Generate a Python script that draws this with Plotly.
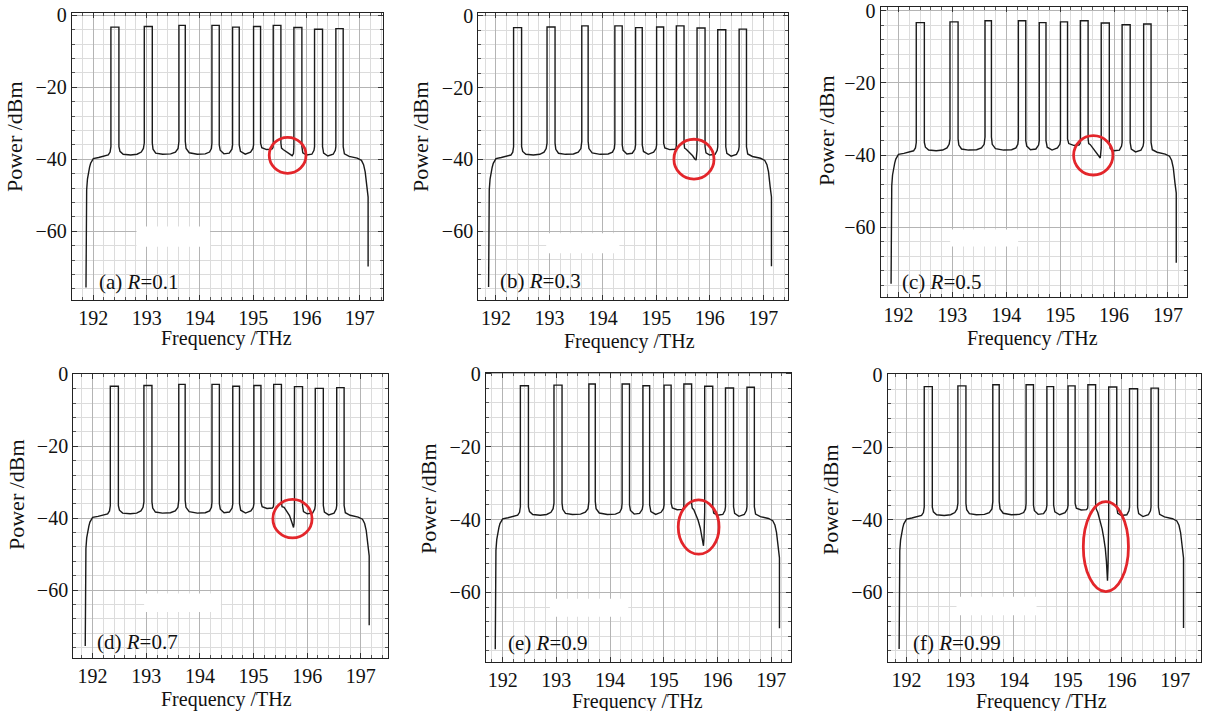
import plotly.graph_objects as go

# ---------------- data ----------------
# shared spectrum trace (left part: up to the right edge of channel 7)
BASE_LEFT_F = [191.8625, 191.868, 191.875, 191.89, 191.906, 191.93, 191.95, 192.0, 192.1, 192.2, 192.28, 192.315, 192.33,
               192.33, 192.48, 192.48, 192.5, 192.56, 192.7, 192.82, 192.9, 192.94, 192.956,
               192.956, 193.106, 193.106, 193.12, 193.17, 193.3, 193.45, 193.54, 193.59, 193.606,
               193.606, 193.725, 193.725, 193.74, 193.8, 193.95, 194.1, 194.18, 194.215, 194.225,
               194.225, 194.3625, 194.3625, 194.38, 194.45, 194.55, 194.6, 194.6125,
               194.6125, 194.7375, 194.7375, 194.76, 194.85, 194.95, 194.995, 195.006,
               195.006, 195.1375, 195.1375, 195.16, 195.25, 195.35, 195.37, 195.375,
               195.375, 195.519, 195.519]
BASE_LEFT_P = [-75.6, -60.0, -48.5, -45.5, -43.9, -42.2, -41.1, -39.8, -39.5, -39.2, -38.8, -38.0, -36.5,
               -3.3, -3.3, -36.5, -37.8, -38.6, -38.8, -38.6, -38.0, -37.0, -35.5,
               -3.1, -3.1, -35.5, -37.2, -38.3, -38.6, -38.5, -38.0, -37.0, -35.0,
               -2.8, -2.8, -35.0, -37.0, -38.2, -38.6, -38.5, -38.0, -37.0, -35.5,
               -2.8, -2.8, -36.0, -37.5, -38.5, -38.3, -37.2, -36.0,
               -3.3, -3.3, -36.0, -37.8, -38.6, -38.0, -37.0, -36.0,
               -3.1, -3.1, -35.5, -36.8, -37.3, -37.2, -36.8, -36.0,
               -2.8, -2.8, -35.5]
# shared spectrum trace (right part: from the top of channel 8)
BASE_RIGHT_F = [195.7625, 195.9125, 195.9125, 195.93, 196.0, 196.1, 196.14, 196.15,
                196.15, 196.3, 196.3, 196.32, 196.4, 196.5, 196.54, 196.55,
                196.55, 196.6875, 196.6875, 196.71, 196.8, 196.95, 197.03, 197.07, 197.1, 197.13,
                197.145, 197.155, 197.155]
BASE_RIGHT_P = [-3.4, -3.4, -36.5, -38.2, -38.8, -38.6, -37.5, -36.5,
                -3.9, -3.9, -36.5, -38.3, -39.1, -38.6, -37.5, -36.5,
                -3.7, -3.7, -36.5, -38.5, -39.2, -39.7, -40.3, -41.5, -43.5, -47.6,
                -49.4, -50.5, -69.8]

# dip between channel 7 and channel 8, one per reflectivity R
DIP_A_F = [195.53, 195.56, 195.62, 195.68, 195.73, 195.755, 195.7625]
DIP_A_P = [-36.9, -37.3, -37.9, -38.6, -39.0, -38.4, -36.5]
DIP_B_F = [195.53, 195.56, 195.62, 195.68, 195.72, 195.745, 195.7625]
DIP_B_P = [-36.9, -37.2, -38.0, -39.0, -39.9, -40.2, -37.5]
DIP_C_F = [195.53, 195.56, 195.61, 195.67, 195.72, 195.745, 195.7625]
DIP_C_P = [-36.8, -37.1, -38.1, -39.4, -40.5, -40.8, -38.0]
DIP_D_F = [195.53, 195.57, 195.62, 195.67, 195.71, 195.745, 195.755, 195.7625]
DIP_D_P = [-36.8, -37.0, -38.0, -39.3, -41.0, -42.6, -41.5, -38.0]
DIP_E_F = [195.53, 195.56, 195.6, 195.64, 195.68, 195.71, 195.74, 195.75, 195.7625]
DIP_E_P = [-36.8, -37.3, -38.6, -40.2, -42.3, -44.5, -47.2, -45.0, -38.0]
DIP_F_F = [195.53, 195.56, 195.6, 195.64, 195.67, 195.7, 195.72, 195.74, 195.75, 195.7625]
DIP_F_P = [-37.0, -38.0, -40.0, -42.5, -45.0, -48.0, -51.5, -56.8, -53.0, -40.0]

PANEL_LABELS = ["(a)", "(b)", "(c)", "(d)", "(e)", "(f)"]
R_VALUES = ["0.1", "0.3", "0.5", "0.7", "0.9", "0.99"]
DIPS_F = [DIP_A_F, DIP_B_F, DIP_C_F, DIP_D_F, DIP_E_F, DIP_F_F]
DIPS_P = [DIP_A_P, DIP_B_P, DIP_C_P, DIP_D_P, DIP_E_P, DIP_F_P]

X_TICKS = [192, 193, 194, 195, 196, 197]
Y_TICKS = [0, -20, -40, -60]

# red highlight ellipse per panel: [x0, x1, y0, y1]
ELLIPSES = [[195.30, 195.99, -43.9, -33.9],
            [195.33, 196.08, -45.5, -34.4],
            [195.25, 195.98, -45.5, -34.6],
            [195.36, 196.09, -45.5, -34.8],
            [195.27, 196.03, -49.5, -34.6],
            [195.29, 196.13, -59.8, -35.0]]
# white blank patch per panel: [x0, x1, y0, y1]
PATCHES = [[192.81, 194.19, -64.3, -58.7],
           [192.94, 194.31, -66.2, -60.6],
           [192.96, 194.22, -65.3, -60.6],
           [192.96, 194.39, -66.1, -61.0],
           [192.88, 194.34, -66.7, -61.7],
           [192.93, 194.42, -66.3, -61.2]]

# ---------------- layout geometry ----------------
W, H = 1213, 711
X_RANGES = [[191.60, 197.44], [191.67, 197.47], [191.67, 197.36],
            [191.64, 197.50], [191.69, 197.37], [191.65, 197.48]]
Y_RANGES = [[-79.1, 0.55], [-79.2, 0.7], [-79.2, 1.1],
            [-79.0, 0.1], [-79.0, 0.3], [-79.1, 0.1]]
# plot frames in pixels: left, right, top, bottom
FRAMES = [[72.0, 383.3, 13.3, 300.0], [478.3, 788.3, 13.3, 300.0], [880.7, 1187.3, 6.7, 296.7],
          [73.3, 387.7, 374.0, 658.3], [486.0, 791.0, 372.7, 661.7], [887.7, 1201.0, 374.3, 661.7]]
YTITLE_POS = [[14, 137], [420, 137], [826, 131], [16, 495], [428, 499], [830, 500]]
XTITLE_POS = [[227, 339], [629, 341], [1032, 339], [227, 699], [637, 701], [1041, 701]]
LABEL_POS = [[192.07, -74.0], [192.04, -74.0], [192.03, -75.0],
             [192.04, -74.5], [192.07, -74.0], [192.09, -74.0]]

FONT = "Liberation Serif, Times New Roman, serif"
LINE_COLOR = "#1a1a1a"

fig = go.Figure()
layout = dict(
    width=W, height=H,
    margin=dict(l=0, r=0, t=0, b=0, autoexpand=False),
    paper_bgcolor="white", plot_bgcolor="white",
    showlegend=False,
    font=dict(family=FONT, size=20, color="#111111"),
)
shapes = []
annotations = []

for i in range(6):
    n = "" if i == 0 else str(i + 1)
    xa, ya = "x" + n, "y" + n
    f = BASE_LEFT_F + DIPS_F[i] + BASE_RIGHT_F
    p = BASE_LEFT_P + DIPS_P[i] + BASE_RIGHT_P
    fig.add_trace(go.Scatter(x=f, y=p, mode="lines", xaxis=xa, yaxis=ya,
                             line=dict(color=LINE_COLOR, width=1.4), hoverinfo="skip"))
    l, r, t, b = FRAMES[i]
    common = dict(showline=True, linecolor="#222222", linewidth=1.3, mirror="allticks",
                  ticks="inside", ticklen=5, tickcolor="#333333", tickwidth=1,
                  showgrid=True, gridcolor="#b4b4b4", gridwidth=1.1, zeroline=False,
                  automargin=False, ticklabeloverflow="allow",
                  tickfont=dict(family=FONT, size=20, color="#111111"))
    layout["xaxis" + n] = dict(
        common, domain=[l / W, r / W], range=X_RANGES[i], anchor=ya,
        tickvals=X_TICKS,
        minor=dict(dtick=0.2, tick0=192, showgrid=True, gridcolor="#dcdcdc", gridwidth=1,
                   ticks="inside", ticklen=3, tickcolor="#555555"))
    layout["yaxis" + n] = dict(
        common, domain=[1 - b / H, 1 - t / H], range=Y_RANGES[i], anchor=xa,
        tickvals=Y_TICKS, ticktext=["0", "\u221220", "\u221240", "\u221260"],
        minor=dict(dtick=4, tick0=0, showgrid=True, gridcolor="#dcdcdc", gridwidth=1,
                   ticks="inside", ticklen=3, tickcolor="#555555"))
    px0, px1, py0, py1 = PATCHES[i]
    shapes.append(dict(type="rect", xref=xa, yref=ya, x0=px0, x1=px1, y0=py0, y1=py1,
                       fillcolor="white", line=dict(width=0), layer="between"))
    ex0, ex1, ey0, ey1 = ELLIPSES[i]
    shapes.append(dict(type="circle", xref=xa, yref=ya, x0=ex0, x1=ex1, y0=ey0, y1=ey1,
                       line=dict(color="#e3262b", width=2.8), layer="above"))
    annotations.append(dict(x=LABEL_POS[i][0], y=LABEL_POS[i][1], xref=xa, yref=ya,
                            xanchor="left", yanchor="middle", showarrow=False,
                            text=PANEL_LABELS[i] + " <i>R</i>=" + R_VALUES[i],
                            font=dict(family=FONT, size=21, color="#111111")))
    annotations.append(dict(x=YTITLE_POS[i][0] / W, y=1 - YTITLE_POS[i][1] / H, xref="paper", yref="paper",
                            xanchor="center", yanchor="middle", showarrow=False, textangle=-90,
                            text="Power /dBm", font=dict(family=FONT, size=22, color="#111111")))
    annotations.append(dict(x=XTITLE_POS[i][0] / W, y=1 - XTITLE_POS[i][1] / H, xref="paper", yref="paper",
                            xanchor="center", yanchor="middle", showarrow=False,
                            text="Frequency /THz", font=dict(family=FONT, size=20, color="#111111")))

layout["shapes"] = shapes
layout["annotations"] = annotations
fig.update_layout(**layout)
fig.write_html("out.html", config={"displayModeBar": False},
               post_script="document.body.style.margin='0px';document.body.style.overflow='hidden';")
